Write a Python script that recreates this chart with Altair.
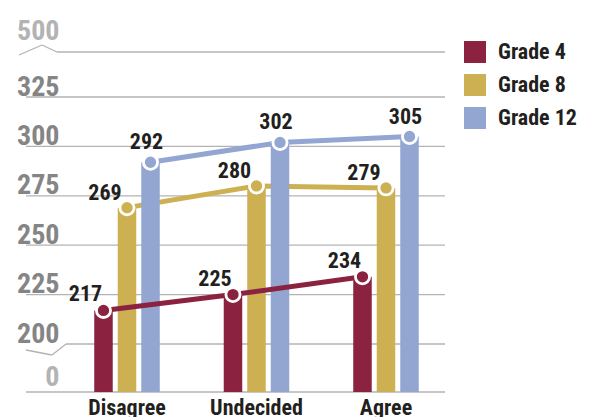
import altair as alt
import pandas as pd

categories = ["Disagree", "Undecided", "Agree"]
grades = ["Grade 4", "Grade 8", "Grade 12"]
grade4_scores = [217, 225, 234]
grade8_scores = [269, 280, 279]
grade12_scores = [292, 302, 305]
axis_ticks = [0, 200, 225, 250, 275, 300, 325, 500]
colors = ["#8B2340", "#CDB052", "#93A6D2"]

rows = []
for g, vals in zip(grades, [grade4_scores, grade8_scores, grade12_scores]):
    for c, v in zip(categories, vals):
        rows.append({"category": c, "grade": g, "score": v})
df = pd.DataFrame(rows)
ticks_df = pd.DataFrame({"v": axis_ticks})

FONT = "Roboto Condensed, Liberation Sans, sans-serif"
GRID = "#b3b3b3"
DARK = "#231f20"
W, H = 419, 370

y_scale = alt.Scale(domain=[0, 200, 325, 500], range=[H, 322, 75, 30], nice=False, zero=False)
y_axis = alt.Axis(
    values=axis_ticks, title=None, grid=False, domain=False, ticks=False, tickSize=0,
    labelAlign="right", labelBaseline="alphabetic", labelPadding=-33,
    labelFont=FONT, labelFontSize=28, labelFontWeight="bold",
    labelColor={"condition": {"test": "datum.value === 0 || datum.value === 500", "value": "#b3b3b3"}, "value": "#858585"},
    labelOffset={"condition": [{"test": "datum.value === 500", "value": -13},
                               {"test": "datum.value === 0", "value": -7}], "value": -2},
    labelOverlap=False, labelFlush=False,
)
x_axis = alt.Axis(title=None, domain=False, ticks=False, labelAngle=0,
                  labelFont=FONT, labelFontSize=22, labelFontWeight="bold", labelColor=DARK,
                  labelBaseline="top", labelPadding=5)
x_scale = alt.Scale(range=[36.25, 424.75], paddingInner=0.494, paddingOuter=0.247)


def X():
    return alt.X("category:N", sort=categories, scale=x_scale, axis=x_axis)


def XO():
    return alt.XOffset("grade:N", sort=grades,
                       scale=alt.Scale(domain=grades, paddingInner=0.2128, paddingOuter=0))


def C(legend=None):
    if legend is None:
        return alt.Color("grade:N", scale=alt.Scale(domain=grades, range=colors), legend=None)
    return alt.Color("grade:N", scale=alt.Scale(domain=grades, range=colors), legend=legend)


legend = alt.Legend(
    title=None, orient="none", legendX=438, legendY=19, symbolType="square", symbolSize=484,
    symbolStrokeWidth=0, labelFont=FONT, labelFontSize=22, labelFontWeight="bold",
    labelColor=DARK, labelOffset=12, rowPadding=11, padding=0,
)

base_grid = alt.Chart(ticks_df)
grid_normal = base_grid.transform_filter("datum.v !== 200 && datum.v !== 500").mark_rule(
    color=GRID, strokeWidth=1.3).encode(
    y=alt.Y("v:Q", scale=y_scale, axis=y_axis), x=alt.value(0), x2=alt.value(W))
grid_200 = base_grid.transform_filter("datum.v === 200").mark_rule(
    color=GRID, strokeWidth=1.3).encode(
    y=alt.Y("v:Q", scale=y_scale, axis=y_axis), x=alt.value(40), x2=alt.value(W))
grid_500 = base_grid.transform_filter("datum.v === 500").mark_rule(
    color=GRID, strokeWidth=1.3).encode(
    y=alt.Y("v:Q", scale=y_scale, axis=y_axis), x=alt.value(31), x2=alt.value(W))

one = alt.Data(values=[{}])
segs = [(-7, 33, 16, 23), (16, 23, 31, 30), (0, 328, 26, 333), (26, 333, 40, 322)]
zig = [alt.Chart(one).mark_rule(color=GRID, strokeWidth=1.3).encode(
    x=alt.value(a), y=alt.value(b), x2=alt.value(c), y2=alt.value(d)) for a, b, c, d in segs]

layers = [grid_normal, grid_200, grid_500] + zig

base = alt.Chart(df)
for g in ["Grade 8", "Grade 12", "Grade 4"]:
    sub = base.transform_filter(alt.datum.grade == g)
    layers.append(sub.mark_bar().encode(
        x=X(), xOffset=XO(), y=alt.Y("score:Q", scale=y_scale, axis=y_axis), color=C(legend)))
    layers.append(sub.mark_line(strokeWidth=5).encode(
        x=X(), xOffset=XO(), y=alt.Y("score:Q", scale=y_scale, axis=y_axis), color=C(),
        detail="grade:N"))
    layers.append(sub.mark_circle(size=200, opacity=1, stroke="white", strokeWidth=2.8).encode(
        x=X(), xOffset=XO(), y=alt.Y("score:Q", scale=y_scale, axis=y_axis), color=C()))

offsets = {"Grade 4": (-18, -16), "Grade 8": (-22, -15), "Grade 12": (-4, -20)}
for g, (dx, dy) in offsets.items():
    layers.append(base.transform_filter(alt.datum.grade == g).mark_text(
        font=FONT, fontSize=22, fontWeight="bold", color=DARK, dx=dx, dy=dy,
        align="center", baseline="middle").encode(
        x=X(), xOffset=XO(), y=alt.Y("score:Q", scale=y_scale, axis=y_axis),
        text="score:Q"))

chart = alt.layer(*layers).properties(
    width=W, height=H,
    autosize=alt.AutoSizeParams(type="none"),
    padding={"left": 18, "top": 14, "right": 142, "bottom": 25},
    background="white",
).configure_view(strokeWidth=0)

chart.save("out.html", embed_options={"renderer": "svg", "actions": False})
